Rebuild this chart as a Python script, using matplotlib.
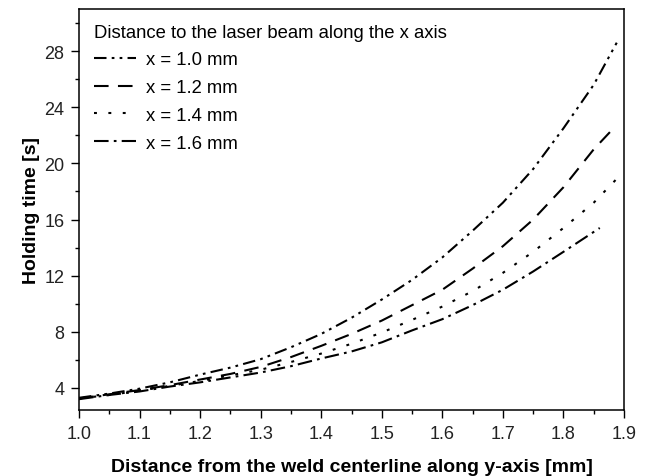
import matplotlib.pyplot as plt
from matplotlib.ticker import MultipleLocator

plt.rcParams['font.family'] = ['Liberation Sans', 'DejaVu Sans']

# values
y_pos = [1.0, 1.05, 1.1, 1.15, 1.2, 1.25, 1.3, 1.35, 1.4, 1.45, 1.5,
         1.55, 1.6, 1.65, 1.7, 1.75, 1.8, 1.85]
t_10 = [3.3, 3.6, 3.95, 4.4, 4.95, 5.45, 6.05, 6.9, 7.85, 9.0, 10.3,
        11.7, 13.3, 15.2, 17.2, 19.6, 22.5, 25.6]
t_12 = [3.25, 3.55, 3.85, 4.2, 4.6, 5.0, 5.5, 6.2, 7.0, 7.85, 8.8,
        9.9, 11.0, 12.5, 14.1, 16.0, 18.3, 21.0]
t_14 = [3.25, 3.5, 3.8, 4.15, 4.5, 4.9, 5.3, 5.85, 6.45, 7.15, 7.95,
        8.85, 9.8, 10.9, 12.2, 13.7, 15.4, 17.2]
t_16 = [3.2, 3.5, 3.75, 4.1, 4.4, 4.75, 5.1, 5.55, 6.1, 6.6, 7.25,
        8.1, 8.9, 9.9, 11.0, 12.3, 13.7, 15.0]
end_y = [1.888, 1.887, 1.888, 1.86]
end_t = [28.6, 22.7, 18.9, 15.4]
labels = ['x = 1.0 mm', 'x = 1.2 mm', 'x = 1.4 mm', 'x = 1.6 mm']

styles = [(0, (6, 2.5, 1.3, 2.5, 1.3, 2.5)),
          (0, (7, 4.5)),
          (0, (1.4, 5.5)),
          (0, (7, 2.5, 1.3, 2.5))]

fig = plt.figure(figsize=(6.46, 4.77), dpi=100)
ax = fig.add_axes([79/646, 1 - 411/477, 545/646, 401/477])

series = [t_10, t_12, t_14, t_16]
for s, ye, te, ls, lab in zip(series, end_y, end_t, styles, labels):
    n = len(y_pos) if ye > 1.87 else len(y_pos) - 1
    ax.plot(y_pos[:n] + [ye], s[:n] + [te], color='black', lw=1.5, linestyle=ls, label=lab)

ax.set_xlim(1.0, 1.9)
ax.set_ylim(2.43, 31.0)
ax.xaxis.set_major_locator(MultipleLocator(0.1))
ax.xaxis.set_minor_locator(MultipleLocator(0.05))
ax.yaxis.set_minor_locator(MultipleLocator(2))
ax.set_yticks([4, 8, 12, 16, 20, 24, 28])
ax.tick_params(which='major', direction='out', length=5.5, width=1, labelsize=13,
               labelcolor='#222222', pad=5)
ax.tick_params(which='minor', direction='out', length=3, width=1)
for sp in ax.spines.values():
    sp.set_linewidth(1.1)

ax.set_xlabel('Distance from the weld centerline along y-axis [mm]', fontsize=14,
              fontweight='bold', labelpad=12)
ax.set_ylabel('Holding time [s]', fontsize=14, fontweight='bold', labelpad=3)

leg = ax.legend(title='Distance to the laser beam along the x axis', loc='upper left',
                frameon=False, fontsize=13.3, title_fontsize=13.3, handlelength=2.3,
                handletextpad=0.55, labelspacing=0.58, borderaxespad=0.3,
                borderpad=0.5)
leg._legend_box.align = 'left'

fig.savefig('out.png', dpi=100)
